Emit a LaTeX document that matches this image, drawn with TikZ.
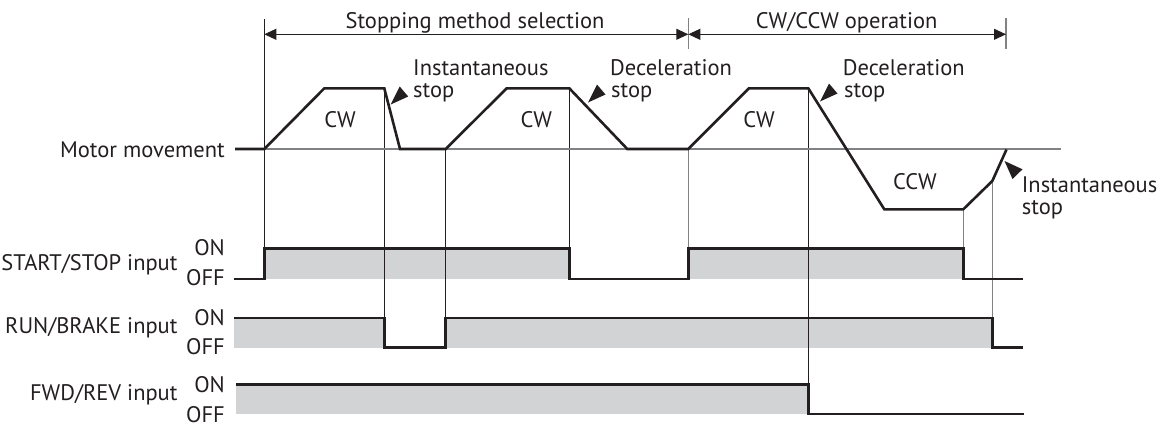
\documentclass[tikz,border=0pt]{standalone}
\usepackage{fontspec}
\setmainfont{PT Sans}
\usetikzlibrary{arrows.meta}
\definecolor{ink}{HTML}{231F20}
\definecolor{shade}{HTML}{D1D3D4}
\definecolor{guide}{HTML}{808285}
\begin{document}
\begin{tikzpicture}[x=1pt,y=-1pt,
  lbl/.style={inner sep=0pt, text=ink, font=\fontsize{22.5}{24}\selectfont},
  sig/.style={draw=ink, line width=2.6pt, line join=miter},
  vline/.style={draw=ink, line width=0.9pt},
  gline/.style={draw=guide, line width=1.1pt},
  band/.style={fill=shade, draw=none},
  dimline/.style={draw=ink, line width=0.9pt, {Triangle[length=12pt,width=11pt]}-{Triangle[length=12pt,width=11pt]}},
  pointer/.style={fill=ink, draw=none}]
\useasboundingbox (0,0) rectangle (1163,426);

% ---------- key coordinates ----------
\coordinate (d0) at (264.3,34.3);
\coordinate (d1) at (688.3,34.3);
\coordinate (d2) at (1006,34.3);

% ---------- gray bands ----------
\fill[band] (264.3,248.3) rectangle (569.3,279);
\fill[band] (688.3,248.3) rectangle (963.3,279);
\fill[band] (234.3,318) rectangle (384.3,347.7);
\fill[band] (445.7,318) rectangle (992.3,347.7);
\fill[band] (236,384.7) rectangle (808.3,414);

% ---------- guide lines ----------
\draw[vline] (264.3,19) -- (264.3,278);
\draw[vline] (384.3,88.3) -- (384.3,347.7);
\draw[vline] (445.7,149) -- (445.7,347.7);
\draw[vline] (569.3,88.3) -- (569.3,279);
\draw[vline] (808.3,88.3) -- (808.3,414);
\draw[gline] (688.3,18) -- (688.3,49);
\draw[gline] (688.3,149) -- (688.3,279);
\draw[gline] (963.3,209.3) -- (963.3,248.3);
\draw[gline] (992.3,181) -- (992.3,318);
\draw[gline] (1006,18) -- (1006,49);
\draw[gline] (264.3,149) -- (1061,149);

% ---------- dimension arrows ----------
\draw[dimline] (d0) -- (d1);
\draw[dimline] (d1) -- (d2);

% ---------- motor movement ----------
\draw[sig] (235,149) -- (264.3,149) -- (324.3,88.3) -- (384.3,88.3) -- (400,149)
  -- (445.7,149) -- (506.7,88.3) -- (569.3,88.3) -- (627.3,149) -- (688.3,149)
  -- (749,88.3) -- (808.3,88.3) -- (884.3,209.3) -- (963.3,209.3) -- (992.3,181)
  -- (1006.5,149.5);

% ---------- signals ----------
\draw[sig] (234,279) -- (264.3,279) -- (264.3,248.3) -- (569.3,248.3) -- (569.3,279)
  -- (688.3,279) -- (688.3,248.3) -- (963.3,248.3) -- (963.3,279) -- (1023,279);
\draw[sig] (234.3,318) -- (384.3,318) -- (384.3,347.7) -- (445.7,347.7) -- (445.7,318)
  -- (992.3,318) -- (992.3,347.7) -- (1023,347.7);
\draw[sig] (236,384.7) -- (808.3,384.7) -- (808.3,414) -- (1024,414);

% ---------- pointers ----------
\fill[pointer] (390.7,104.5) -- ++(9,-18) -- ++(8.5,10) -- cycle;
\fill[pointer] (588,102.5) -- ++(9,-18) -- ++(8.5,10) -- cycle;
\fill[pointer] (820,101.5) -- ++(9,-18) -- ++(8.5,10) -- cycle;
\fill[pointer] (1004.5,161) -- ++(18,8.3) -- ++(-10,9.7) -- cycle;

% ---------- texts ----------
\node[lbl, anchor=base] (tsel) at (475,28.3) {Stopping method selection};
\node[lbl, anchor=base] (top) at (846.7,28.3) {CW/CCW operation};

\node[lbl, anchor=base west] (i1a) at (413,75.5) {Instantaneous};
\node[lbl, anchor=base west] (i1b) at (413,97) {stop};
\node[lbl, anchor=base west] (d1a) at (610,75.5) {Deceleration};
\node[lbl, anchor=base west] (d1b) at (611,97) {stop};
\node[lbl, anchor=base west] (d2a) at (842.7,75.5) {Deceleration};
\node[lbl, anchor=base west] (d2b) at (844,97) {stop};
\node[lbl, anchor=base west] (i2a) at (1021.7,192.8) {Instantaneous};
\node[lbl, anchor=base west] (i2b) at (1021.7,214.8) {stop};

\node[lbl, anchor=base] (cw1) at (340,127.5) {CW};
\node[lbl, anchor=base] (cw2) at (536.3,127.5) {CW};
\node[lbl, anchor=base] (cw3) at (759,127) {CW};
\node[lbl, anchor=base] (ccw) at (915,189) {CCW};

\node[lbl, anchor=base east] (mm) at (225,157.3) {Motor movement};
\node[lbl, anchor=base east] (ss) at (177.7,270) {START/STOP input};
\node[lbl, anchor=base east] (rb) at (177.7,333) {RUN/BRAKE input};
\node[lbl, anchor=base east] (fr) at (177.7,400.5) {FWD/REV input};

\node[lbl, anchor=base east] (on1) at (225,255) {ON};
\node[lbl, anchor=base east] (off1) at (225,285.5) {OFF};
\node[lbl, anchor=base east] (on2) at (225,325) {ON};
\node[lbl, anchor=base east] (off2) at (225,354.5) {OFF};
\node[lbl, anchor=base east] (on3) at (225,392) {ON};
\node[lbl, anchor=base east] (off3) at (225,422) {OFF};
\end{tikzpicture}
\end{document}
